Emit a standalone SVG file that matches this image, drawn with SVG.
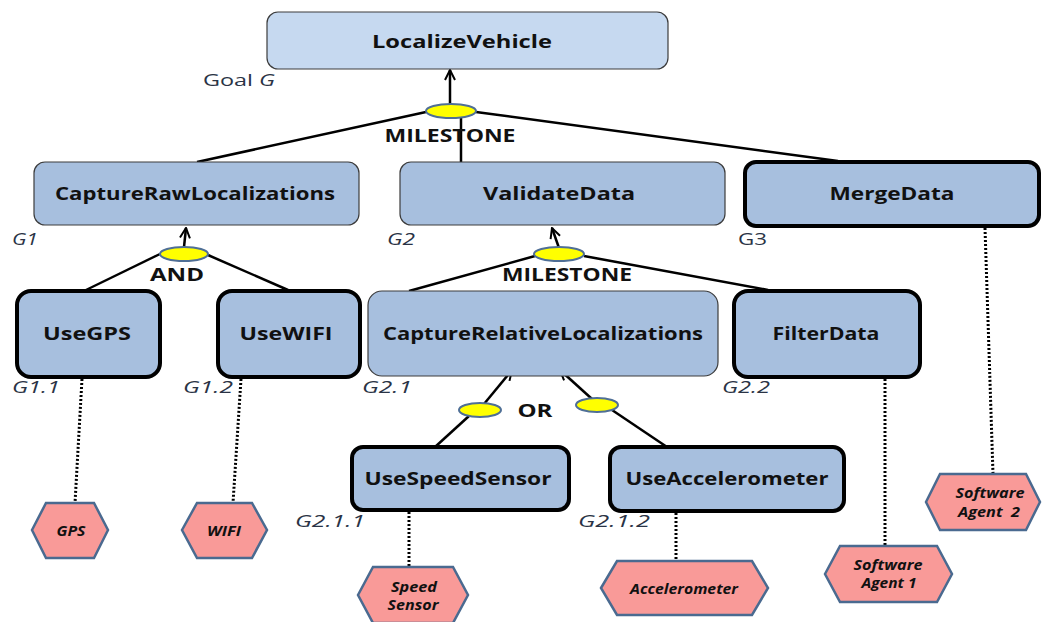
<svg xmlns="http://www.w3.org/2000/svg" width="1042" height="622" viewBox="0 0 1042 622">
  <defs>
    <marker id="arrow" viewBox="0 0 12 12" refX="11" refY="6" markerWidth="12" markerHeight="12" markerUnits="userSpaceOnUse" orient="auto">
      <path d="M1,1 L11,6 L1,11" fill="none" stroke="#000" stroke-width="2"/>
    </marker>
    <style>
      .goal { fill: #a7bfde; stroke: #3c3c3c; stroke-width: 1.2; }
      .goal-top { fill: #c6d9f0; stroke: #3c3c3c; stroke-width: 1.2; }
      .goal-leaf { fill: #a7bfde; stroke: #000; stroke-width: 4; }
      .name { font-family: "Open Sans", "DejaVu Sans", sans-serif; font-weight: bold; font-size: 18px; fill: #111; text-anchor: middle; dominant-baseline: central; }
      .op { font-family: "Open Sans", "DejaVu Sans", sans-serif; font-weight: bold; font-size: 18px; fill: #111; text-anchor: middle; dominant-baseline: central; }
      .id { font-family: "Open Sans", "DejaVu Sans", sans-serif; font-size: 17px; font-style: italic; fill: #2a3345; }
      .idr { font-family: "Open Sans", "DejaVu Sans", sans-serif; font-size: 17px; fill: #2a3345; }
      .node-oval { fill: #ffff00; stroke: #4f6f96; stroke-width: 2; }
      .link { stroke: #000; stroke-width: 2.5; fill: none; }
      .arr { stroke: #000; stroke-width: 2.5; fill: none; marker-end: url(#arrow); }
      .dots { stroke: #000; stroke-width: 3; stroke-dasharray: 2 2; fill: none; }
      .agent { fill: #f99a98; stroke: #4a6a90; stroke-width: 2.5; }
      .agent-t { font-family: "Open Sans", "DejaVu Sans", sans-serif; font-weight: bold; font-style: italic; font-size: 13.5px; fill: #111; text-anchor: middle; dominant-baseline: central; }
    </style>
  </defs>

  <rect width="1042" height="622" fill="#fff"/>

  <!-- connectors: refinements, decomposition operators and dependencies -->
  <g id="connectors">
    <!-- G: milestone decomposition -->
    <line class="arr" x1="450" y1="104" x2="450" y2="70"/>
    <line class="link" x1="426" y1="112" x2="197" y2="162"/>
    <line class="link" x1="476" y1="112" x2="838" y2="161"/>
    <line class="link" x1="461" y1="118" x2="461" y2="162"/>
    <!-- G1: AND decomposition -->
    <line class="arr" x1="184" y1="247" x2="186" y2="228"/>
    <line class="link" x1="160" y1="254" x2="86" y2="290"/>
    <line class="link" x1="208" y1="255" x2="288" y2="290"/>
    <!-- G2: milestone decomposition -->
    <line class="arr" x1="559" y1="248" x2="552" y2="228"/>
    <line class="link" x1="535" y1="256" x2="409" y2="291"/>
    <line class="link" x1="584" y1="256" x2="768" y2="290"/>
    <!-- G2.1: OR decomposition -->
    <line class="arr" x1="484" y1="404" x2="512" y2="370"/>
    <line class="link" x1="469" y1="416" x2="435" y2="447"/>
    <line class="arr" x1="592" y1="399" x2="560" y2="370"/>
    <line class="link" x1="612" y1="410" x2="667" y2="447"/>
    <!-- leaf goals to agents -->
    <line class="dots" x1="82" y1="379" x2="75" y2="503"/>
    <line class="dots" x1="241" y1="379" x2="233" y2="503"/>
    <line class="dots" x1="409" y1="512" x2="409" y2="567"/>
    <line class="dots" x1="676" y1="513" x2="676" y2="561"/>
    <line class="dots" x1="885" y1="379" x2="885" y2="546"/>
    <line class="dots" x1="985" y1="228" x2="993" y2="474"/>
    <!-- operator ovals -->
    <ellipse class="node-oval" cx="451" cy="111" rx="25" ry="7"/>
    <ellipse class="node-oval" cx="184" cy="254" rx="24" ry="7"/>
    <ellipse class="node-oval" cx="559" cy="254" rx="25" ry="7"/>
    <ellipse class="node-oval" cx="480" cy="410" rx="21" ry="7"/>
    <ellipse class="node-oval" cx="597" cy="405" rx="21" ry="7"/>
    <text class="op" x="450" y="135" textLength="131" lengthAdjust="spacingAndGlyphs">MILESTONE</text>
    <text class="op" x="177" y="274" textLength="54" lengthAdjust="spacingAndGlyphs">AND</text>
    <text class="op" x="567" y="274" textLength="130" lengthAdjust="spacingAndGlyphs">MILESTONE</text>
    <text class="op" x="535" y="410" textLength="35" lengthAdjust="spacingAndGlyphs">OR</text>
  </g>

  <g id="G">
    <rect class="goal-top" x="267" y="12" width="401" height="57" rx="11"/>
    <text class="name" x="462" y="41" textLength="180" lengthAdjust="spacingAndGlyphs">LocalizeVehicle</text>
    <text class="idr" x="203" y="86" textLength="72" lengthAdjust="spacingAndGlyphs">Goal <tspan font-style="italic">G</tspan></text>
  </g>

  <g id="G1">
    <rect class="goal" x="34" y="162" width="325" height="63" rx="11"/>
    <text class="name" x="195" y="193" textLength="280" lengthAdjust="spacingAndGlyphs">CaptureRawLocalizations</text>
    <text class="id" x="12" y="245" textLength="26" lengthAdjust="spacingAndGlyphs">G1</text>
  </g>

  <g id="G2">
    <rect class="goal" x="400" y="162" width="325" height="63" rx="11"/>
    <text class="name" x="559" y="193" textLength="152" lengthAdjust="spacingAndGlyphs">ValidateData</text>
    <text class="id" x="387" y="245" textLength="28" lengthAdjust="spacingAndGlyphs">G2</text>
  </g>

  <g id="G3">
    <rect class="goal-leaf" x="745" y="162" width="294" height="64" rx="11"/>
    <text class="name" x="892" y="193" textLength="125" lengthAdjust="spacingAndGlyphs">MergeData</text>
    <text class="idr" x="738" y="245" textLength="29" lengthAdjust="spacingAndGlyphs">G3</text>
  </g>

  <g id="G1.1">
    <rect class="goal-leaf" x="17" y="291" width="143" height="86" rx="14"/>
    <text class="name" x="87" y="333" textLength="88" lengthAdjust="spacingAndGlyphs">UseGPS</text>
    <text class="id" x="12" y="393" textLength="48" lengthAdjust="spacingAndGlyphs">G1.1</text>
  </g>

  <g id="G1.2">
    <rect class="goal-leaf" x="218" y="291" width="142" height="86" rx="14"/>
    <text class="name" x="286" y="333" textLength="93" lengthAdjust="spacingAndGlyphs">UseWIFI</text>
    <text class="id" x="183" y="393" textLength="50" lengthAdjust="spacingAndGlyphs">G1.2</text>
  </g>

  <g id="G2.1">
    <rect class="goal" x="368" y="291" width="350" height="85" rx="14"/>
    <text class="name" x="543" y="333" textLength="320" lengthAdjust="spacingAndGlyphs">CaptureRelativeLocalizations</text>
    <text class="id" x="362" y="393" textLength="50" lengthAdjust="spacingAndGlyphs">G2.1</text>
  </g>

  <g id="G2.2">
    <rect class="goal-leaf" x="734" y="291" width="186" height="86" rx="14"/>
    <text class="name" x="826" y="333" textLength="107" lengthAdjust="spacingAndGlyphs">FilterData</text>
    <text class="id" x="722" y="393" textLength="48" lengthAdjust="spacingAndGlyphs">G2.2</text>
  </g>

  <g id="G2.1.1">
    <rect class="goal-leaf" x="352" y="447" width="217" height="63" rx="11"/>
    <text class="name" x="458" y="478" textLength="187" lengthAdjust="spacingAndGlyphs">UseSpeedSensor</text>
    <text class="id" x="295" y="527" textLength="70" lengthAdjust="spacingAndGlyphs">G2.1.1</text>
  </g>

  <g id="G2.1.2">
    <rect class="goal-leaf" x="610" y="447" width="234" height="64" rx="11"/>
    <text class="name" x="727" y="478" textLength="203" lengthAdjust="spacingAndGlyphs">UseAccelerometer</text>
    <text class="id" x="578" y="527" textLength="72" lengthAdjust="spacingAndGlyphs">G2.1.2</text>
  </g>

  <g id="agent-gps">
    <polygon class="agent" points="32,530 46,503 94,503 108,530 94,558 46,558"/>
    <text class="agent-t" x="71" y="531" textLength="29" lengthAdjust="spacingAndGlyphs">GPS</text>
  </g>

  <g id="agent-wifi">
    <polygon class="agent" points="182,530 197,503 252,503 267,530 252,558 197,558"/>
    <text class="agent-t" x="224" y="531" textLength="34" lengthAdjust="spacingAndGlyphs">WIFI</text>
  </g>

  <g id="agent-speed">
    <polygon class="agent" points="358,595 373,567 453,567 468,595 453,623 373,623"/>
    <text class="agent-t" x="414" y="587" textLength="46" lengthAdjust="spacingAndGlyphs">Speed</text>
    <text class="agent-t" x="413" y="605" textLength="51" lengthAdjust="spacingAndGlyphs">Sensor</text>
  </g>

  <g id="agent-accel">
    <polygon class="agent" points="601,588 617,561 752,561 768,588 752,615 617,615"/>
    <text class="agent-t" x="684" y="589" textLength="108" lengthAdjust="spacingAndGlyphs">Accelerometer</text>
  </g>

  <g id="agent-sw1">
    <polygon class="agent" points="825,574 840,546 937,546 952,574 937,602 840,602"/>
    <text class="agent-t" x="888" y="565" textLength="69" lengthAdjust="spacingAndGlyphs">Software</text>
    <text class="agent-t" x="889" y="583" textLength="55" lengthAdjust="spacingAndGlyphs">Agent 1</text>
  </g>

  <g id="agent-sw2">
    <polygon class="agent" points="926,502 940,474 1026,474 1040,502 1026,530 940,530"/>
    <text class="agent-t" x="990" y="493" textLength="69" lengthAdjust="spacingAndGlyphs">Software</text>
    <text class="agent-t" x="989" y="512" textLength="62" lengthAdjust="spacingAndGlyphs" xml:space="preserve">Agent  2</text>
  </g>
</svg>
